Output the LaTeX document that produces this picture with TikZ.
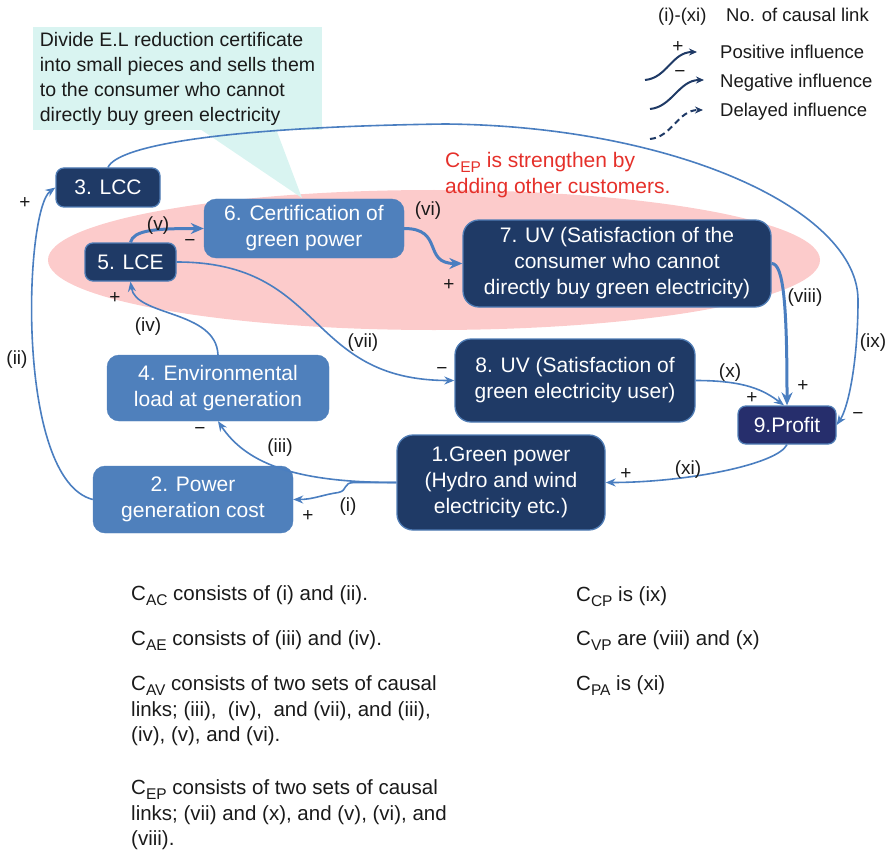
\documentclass[tikz,border=0pt]{standalone}
\usepackage{fontspec}
\setmainfont{Liberation Sans}
\usetikzlibrary{arrows.meta}
\definecolor{navyBox}{HTML}{1F3A66}
\definecolor{midBox}{HTML}{4F80BC}
\definecolor{rimBlue}{HTML}{4F7CB5}
\definecolor{profitBox}{HTML}{262E6C}
\definecolor{edgeBlue}{HTML}{4A7EC0}
\definecolor{ovalPink}{HTML}{FCCBCB}
\definecolor{noteCyan}{HTML}{D9F4F1}
\definecolor{alertRed}{HTML}{E5302A}
\definecolor{inkBlack}{HTML}{1A1A1A}
\newcommand{\CSub}[1]{C\raisebox{-0.45ex}{\fontsize{15.5}{15.5}\selectfont #1}}
\newcommand{\boxFont}{\fontsize{21}{26}\selectfont}
\newcommand{\noteFont}{\fontsize{19.5}{25}\selectfont}
\newcommand{\tagFont}{\fontsize{19}{22}\selectfont}
\newcommand{\keyFont}{\fontsize{18.5}{22}\selectfont}
\newcommand{\textFont}{\fontsize{20.5}{25.5}\selectfont}

\begin{document}
\begin{tikzpicture}[x=1pt,y=-1pt]
        \tikzset{box/.style={rounded corners=12pt, text=white, align=center, font=\boxFont, inner sep=0pt}}
        \tikzset{darkBox/.style={box, fill=navyBox, draw=rimBlue, line width=1.3pt}}
        \tikzset{lightBox/.style={box, fill=midBox, draw=midBox}}
        \tikzset{link/.style={draw=edgeBlue, line width=1.6pt, -{Stealth[length=10pt,width=8pt]}}}
        \tikzset{boldLink/.style={link, line width=3pt, -{Stealth[length=13pt,width=11pt]}}}
        \tikzset{keyLink/.style={draw=navyBox, line width=2pt, -{Stealth[length=8pt,width=7pt]}}}
        \tikzset{tag/.style={font=\tagFont, text=inkBlack, inner sep=0pt}}
        \tikzset{keyText/.style={font=\keyFont, text=inkBlack, inner sep=0pt, anchor=base west}}
        \tikzset{para/.style={font=\textFont, text=inkBlack, inner sep=0pt, anchor=north west, align=left}}
        \useasboundingbox (0,0) rectangle (890,850);

        \fill[ovalPink] (434,260) ellipse [x radius=386, y radius=70];
        \node[fill=noteCyan, font=\noteFont, text=inkBlack, align=left, inner sep=0pt,
              minimum width=289pt, minimum height=103pt] (note) at (177.5,78.5)
              {Divide E.L reduction certificate\\into small pieces and sells them\\to the consumer who cannot\\directly buy green electricity};
        \fill[noteCyan] (200,129) -- (302,198) -- (276,129) -- cycle;

        \node[darkBox, minimum width=104pt, minimum height=39pt, rounded corners=8pt] (lcc) at (108,187.5) {3. LCC};
        \node[darkBox, minimum width=91pt, minimum height=38pt, rounded corners=8pt] (lce) at (130.5,262) {5. LCE};
        \node[lightBox, minimum width=200pt, minimum height=59pt] (cert) at (304,228.5) {6. Certification of\\green power};
        \node[darkBox, minimum width=308pt, minimum height=87pt, rounded corners=16pt] (uvIndirect) at (617,263.5)
              {7. UV (Satisfaction of the\\consumer who cannot\\directly buy green electricity)};
        \node[darkBox, minimum width=240pt, minimum height=83pt, rounded corners=16pt] (uvDirect) at (575,380.5)
              {8. UV (Satisfaction of\\green electricity user)};
        \node[darkBox, fill=profitBox, minimum width=98pt, minimum height=38pt, rounded corners=8pt] (profit) at (787,425) {9.Profit};
        \node[darkBox, minimum width=208pt, minimum height=95pt, rounded corners=16pt] (green) at (501,482.5)
              {1.Green power\\(Hydro and wind\\electricity etc.)};
        \node[lightBox, minimum width=222pt, minimum height=66pt] (envLoad) at (218,388) {4. Environmental\\load at generation};
        \node[lightBox, minimum width=200pt, minimum height=67pt] (genCost) at (193,499.5) {2. Power\\generation cost};

        \node[font=\boxFont, text=alertRed, align=left, inner sep=0pt, anchor=north west] (redNote) at (445,152)
              {\CSub{EP} is strengthen by\\adding other customers.};

        \draw[link] (green.west) -- ++(-42,0) .. controls +(-12,0) and +(10,-2) .. ++(-16,10)
              .. controls +(-15,2) and +(20,0) .. (genCost.east);
        \draw[link] (green.west) .. controls +(-95,0) and +(30,45) .. (envLoad.south);
        \draw[link] (genCost.west) .. controls +(-78,-20) and +(-31,22) .. (lcc.west);
        \draw[link] (envLoad.north) .. controls +(-2,-45) and +(5,35) .. (lce.south);
        \draw[boldLink] (lce.north) .. controls +(3,-12) and +(-50,0) .. (cert.west);
        \draw[boldLink] (cert.east) .. controls +(40,0) and +(-40,0) .. (uvIndirect.west);
        \draw[link] (lce.east) .. controls +(150,0) and +(-150,0) .. (uvDirect.west);
        \draw[boldLink] (uvIndirect.east) .. controls +(12,0) and +(0,-100) .. (profit.north);
        \draw[link] (lcc.north) .. controls +(10,-22) and +(-220,3) .. (445,124)
              .. controls +(230,2) and +(0,-90) .. (858,300)
              .. controls +(0,60) and +(12,-18) .. (profit.east);
        \draw[link] (uvDirect.east) .. controls +(50,0) and +(-20,-15) .. ([xshift=-3pt]profit.north);
        \draw[link] (profit.south) .. controls +(-10,20) and +(80,0) .. (green.east);

        \node[tag] (tagI) at (348,507) {(i)};
        \node[tag] (signI) at (308,516) {+};
        \node[tag] (tagIII) at (280,448) {(iii)};
        \node[tag] (signIII) at (200,431) {−};
        \node[tag] (tagII) at (17,360) {(ii)};
        \node[tag] (signII) at (25,203) {+};
        \node[tag] (tagIV) at (148,327) {(iv)};
        \node[tag] (signIV) at (115,298) {+};
        \node[tag] (tagV) at (158,226) {(v)};
        \node[tag] (signV) at (190,243) {−};
        \node[tag] (tagVI) at (428,211) {(vi)};
        \node[tag] (signVI) at (449,285) {+};
        \node[tag] (tagVII) at (363,343) {(vii)};
        \node[tag] (signVII) at (442,371) {−};
        \node[tag] (tagVIII) at (805,298) {(viii)};
        \node[tag] (signVIII) at (803,386) {+};
        \node[tag] (tagIX) at (873,343) {(ix)};
        \node[tag] (signIX) at (858,416) {−};
        \node[tag] (tagX) at (730,373) {(x)};
        \node[tag] (signX) at (752,398) {+};
        \node[tag] (tagXI) at (688,470) {(xi)};
        \node[tag] (signXI) at (626,474) {+};

        \node[keyText] (keyNum) at (658,21.5) {(i)-(xi)};
        \node[keyText] (keyNumText) at (726,21.5) {No. of causal link};
        \coordinate (posFrom) at (645,80);
        \coordinate (posTo) at (697,52);
        \coordinate (negFrom) at (650,109);
        \coordinate (negTo) at (704,80);
        \coordinate (delFrom) at (650,139);
        \coordinate (delTo) at (703,110);
        \draw[keyLink] (posFrom) .. controls +(22,-2) and +(-25,0) .. (posTo);
        \draw[keyLink] (negFrom) .. controls +(22,-2) and +(-25,0) .. (negTo);
        \draw[keyLink, dashed, dash pattern=on 6pt off 4pt] (delFrom) .. controls +(22,-2) and +(-25,0) .. (delTo);
        \node[tag] (keyPlus) at (678,47) {+};
        \node[tag] (keyMinus) at (680,74) {−};
        \node[keyText] (keyPos) at (720,58.5) {Positive influence};
        \node[keyText] (keyNeg) at (720,87.5) {Negative influence};
        \node[keyText] (keyDel) at (720,116.5) {Delayed influence};

        \node[para] (capAC) at (131,585.5) {\CSub{AC} consists of (i) and (ii).};
        \node[para] (capAE) at (131,630.5) {\CSub{AE} consists of (iii) and (iv).};
        \node[para] (capAV) at (131,675.5) {\CSub{AV} consists of two sets of causal\\links; (iii),~ (iv),~ and (vii), and (iii),\\(iv), (v), and (vi).};
        \node[para] (capEP) at (131,779.5) {\CSub{EP} consists of two sets of causal\\links; (vii) and (x), and (v), (vi), and\\(viii).};
        \node[para] (capCP) at (576,586.5) {\CSub{CP} is (ix)};
        \node[para] (capVP) at (576,630.5) {\CSub{VP} are (viii) and (x)};
        \node[para] (capPA) at (576,675.5) {\CSub{PA} is (xi)};
\end{tikzpicture}
\end{document}
